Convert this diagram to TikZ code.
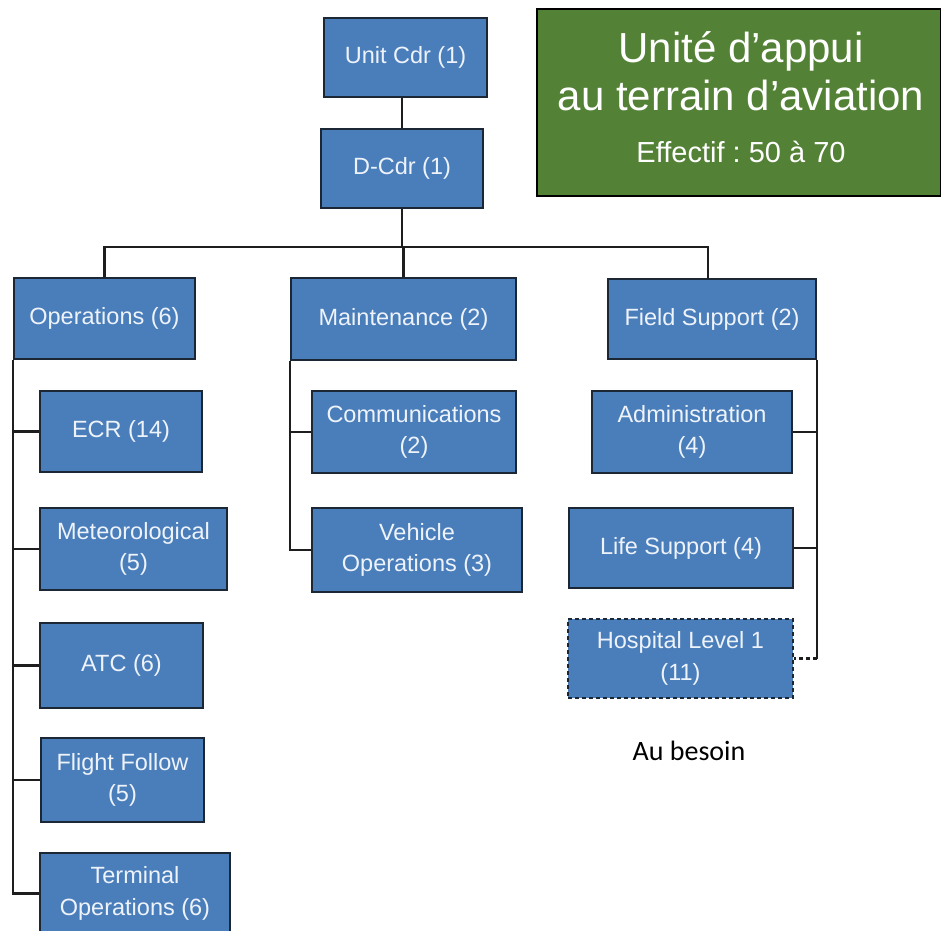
\documentclass[tikz,border=0pt]{standalone}
\usepackage{fontspec}
\setmainfont{Liberation Sans}
\newfontfamily\calib{Carlito}
\frenchspacing
\definecolor{boxblue}{HTML}{4A7EBB}
\definecolor{boxedge}{HTML}{1C2736}
\definecolor{boxtext}{HTML}{EEF3FA}
\definecolor{titlegreen}{HTML}{538135}
\definecolor{linecol}{HTML}{1E1E1E}
\begin{document}
\begin{tikzpicture}[x=1pt,y=-1pt,
  orgbox/.style={draw=boxedge, line width=1.5pt, fill=boxblue, text=boxtext,
    inner sep=0pt, align=center, font=\fontsize{23.5}{31.5}\selectfont},
  conn/.style={draw=linecol, line width=2.2pt},
  titlebox/.style={draw=black, line width=2.2pt, fill=titlegreen, inner sep=0pt},
  titletext/.style={text=white, anchor=base, inner sep=0pt}]
\useasboundingbox (0,0) rectangle (941,930);
% helper: box from corners
\newcommand\orgnode[6]{%
  \node[orgbox, minimum width={(#4-#2)*1pt}, minimum height={(#5-#3)*1pt}]
    (#1) at ({(#2+#4)/2},{(#3+#5)/2}) {#6};}
\orgnode{unit}{324}{18}{487}{97}{Unit Cdr (1)}
\orgnode{dcdr}{321}{129}{483}{208}{D-Cdr (1)}
\orgnode{ops}{14}{278}{195}{359}{Operations (6)}
\orgnode{maint}{291}{278}{516}{360}{Maintenance (2)}
\orgnode{field}{608}{279}{816}{359}{Field Support (2)}
\orgnode{ecr}{40}{391}{202}{472}{ECR (14)}
\orgnode{meteo}{40}{508}{227}{590}{Meteorological\\(5)}
\orgnode{atc}{40}{623}{203}{708}{ATC (6)}
\orgnode{ff}{41}{738}{204}{822}{Flight Follow\\(5)}
\orgnode{term}{40}{853}{230}{934}{Terminal\\Operations (6)}
\orgnode{comm}{312}{391}{516}{473}{Communications\\(2)}
\orgnode{veh}{312}{508}{522}{592}{Vehicle\\Operations (3)}
\orgnode{admin}{592}{391}{792}{473}{Administration\\(4)}
\orgnode{life}{569}{508}{793}{588}{Life Support (4)}
\node[orgbox, dashed, dash pattern=on 4pt off 3pt, minimum width=225pt, minimum height=79pt]
  (hosp) at (680.5,658.5) {Hospital Level 1\\(11)};
% title box
\node[titlebox, minimum width=404pt, minimum height=187pt] (title) at (739,102.5) {};
\node[titletext, font=\fontsize{42}{48}\selectfont] (t1) at (741,62) {Unité d’appui};
\node[titletext, font=\fontsize{42}{48}\selectfont] (t2) at (741,110) {au terrain d’aviation};
\node[titletext, font=\fontsize{29}{34}\selectfont] (t3) at (741,162) {Effectif : 50 à 70};
% note
\node[font=\calib\fontsize{28}{32}\selectfont, text=black, inner sep=0pt] (note) at (689,751) {Au besoin};
% connectors
\coordinate (bus) at (403,247);
\coordinate (fstop) at (708,279);
\draw[conn] (dcdr.north) -- (dcdr.north |- unit.south);
\draw[conn] (dcdr.south) -- (dcdr.south |- bus);
\draw[conn] (ops.north) -- (ops.north |- bus) -- (fstop |- bus) -- (fstop);
\draw[conn] (maint.north) -- (maint.north |- bus);
% operations spine
\draw[conn] (ops.south west) -- (ops.south west |- term.west) -- (term.west);
\draw[conn] (ops.south west |- ecr.west) -- (ecr.west);
\draw[conn] (ops.south west |- meteo.west) -- (meteo.west);
\draw[conn] (ops.south west |- atc.west) -- (atc.west);
\draw[conn] (ops.south west |- ff.west) -- (ff.west);
% maintenance spine
\draw[conn] (maint.south west) -- (maint.south west |- veh.west) -- (veh.west);
\draw[conn] (maint.south west |- comm.west) -- (comm.west);
% field support spine
\draw[conn] (field.south east) -- (field.south east |- hosp.east);
\draw[conn] (field.south east |- admin.east) -- (admin.east);
\draw[conn] (field.south east |- life.east) -- (life.east);
\draw[conn, dashed, dash pattern=on 4pt off 3pt] (field.south east |- hosp.east) -- (hosp.east);
\end{tikzpicture}
\end{document}
